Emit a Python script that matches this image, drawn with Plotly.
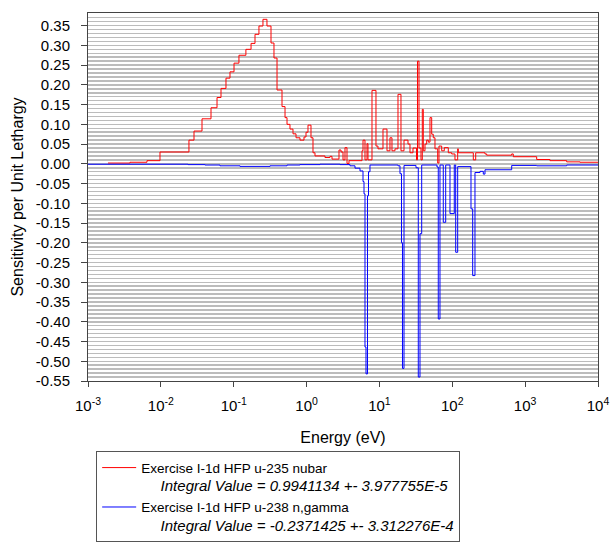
import plotly.graph_objects as go

# ---------------- data ----------------
# u-235 nubar: group lower edges (eV) and sensitivity per unit lethargy
nubar_edges = [0.00188, 0.00377, 0.00645, 0.00973, 0.0243, 0.0285, 0.0367, 0.0488, 0.0590, 0.0669,
               0.0783, 0.0889, 0.101, 0.118, 0.147, 0.173, 0.196, 0.222, 0.252, 0.286,
               0.325, 0.357, 0.393, 0.460, 0.506, 0.539, 0.592, 0.651, 0.716, 0.812,
               0.922, 0.982, 1.046, 1.150, 1.225, 1.305, 1.789, 2.096, 2.234, 2.786,
               2.969, 3.162, 3.368, 3.588, 3.821, 5.765, 5.950, 6.337, 6.751, 6.966,
               7.906, 8.968, 9.554, 11.19, 12.70, 13.96, 14.87, 16.35, 17.98, 19.76,
               21.74, 24.66, 26.27, 28.88, 32.26, 33.30, 34.91, 37.19, 38.75, 39.99,
               42.20, 44.53, 46.84, 49.43, 52.15, 54.85, 57.87, 63.04, 65.68, 71.54,
               77.68, 88.13, 98.12, 108.9, 118.6, 120.9, 194.3, 209.6, 281.1, 296.7,
               653.6, 687.4, 1440.0, 2192.0, 3716.0, 5657.0, 10000.0]
nubar_values = [0.002, 0.004, 0.008, 0.030, 0.060, 0.083, 0.114, 0.142, 0.168, 0.191,
                0.217, 0.233, 0.255, 0.275, 0.290, 0.305, 0.328, 0.349, 0.366, 0.349,
                0.306, 0.268, 0.187, 0.145, 0.117, 0.100, 0.088, 0.076, 0.066, 0.060,
                0.068, 0.080, 0.098, 0.066, 0.028, 0.020, 0.016, 0.019, 0.012, 0.035,
                0.030, 0.010, 0.041, 0.001, 0.008, 0.033, 0.060, 0.010, 0.051, 0.010,
                0.186, 0.045, 0.038, 0.088, 0.033, 0.066, 0.033, 0.038, 0.176, 0.033,
                0.060, 0.050, 0.028, 0.040, 0.010, 0.260, 0.040, 0.010, 0.138, 0.033,
                0.050, 0.060, 0.055, 0.117, 0.075, 0.066, 0.038, 0.002, 0.045, 0.033,
                0.041, 0.028, 0.025, 0.010, 0.038, 0.028, 0.010, 0.028, 0.025, 0.022,
                0.025, 0.018, 0.011, 0.008, 0.005, 0.004]

# u-238 n,gamma
ngam_edges = [0.001, 0.0236, 0.0403, 0.0648, 0.122, 0.315, 0.539, 0.812, 1.528, 2.875,
              3.945, 4.619, 5.410, 5.950, 6.140, 6.337, 6.540, 6.858, 7.077, 7.419,
              17.98, 19.15, 20.08, 20.72, 21.74, 31.76, 34.15, 36.03, 38.02, 61.66,
              64.23, 67.79, 75.24, 81.19, 92.99, 106.5, 111.4, 118.6, 180.6, 190.5,
              204.9, 240.0, 266.4, 281.1, 653.6, 1440.0, 3716.0, 10000.0]
ngam_values = [-0.001, -0.002, -0.003, -0.005, -0.0065, -0.005, -0.003, -0.002, -0.001, -0.002,
               -0.005, -0.011, -0.018, -0.045, -0.076, -0.464, -0.532, -0.081, -0.020, -0.003,
               -0.005, -0.025, -0.200, -0.518, -0.004, -0.010, -0.540, -0.177, -0.003, -0.008,
               -0.393, -0.003, -0.148, -0.003, -0.126, -0.003, -0.224, -0.007, -0.114, -0.283,
               -0.022, -0.019, -0.026, -0.015, -0.004, -0.005, -0.003]

x_tick_vals = [1e-3, 1e-2, 1e-1, 1e0, 1e1, 1e2, 1e3, 1e4]
x_tick_text = ["10<sup>-3</sup>", "10<sup>-2</sup>", "10<sup>-1</sup>", "10<sup>0</sup>",
               "10<sup>1</sup>", "10<sup>2</sup>", "10<sup>3</sup>", "10<sup>4</sup>"]
y_tick_vals = [0.35, 0.30, 0.25, 0.20, 0.15, 0.10, 0.05, 0.00, -0.05, -0.10, -0.15, -0.20,
               -0.25, -0.30, -0.35, -0.40, -0.45, -0.50, -0.55]
y_tick_text = ["0.35", "0.30", "0.25", "0.20", "0.15", "0.10", "0.05", "0.00", "-0.05", "-0.10",
               "-0.15", "-0.20", "-0.25", "-0.30", "-0.35", "-0.40", "-0.45", "-0.50", "-0.55"]

series_names = ["Exercise I-1d HFP u-235 nubar", "Exercise I-1d HFP u-238 n,gamma"]
integral_texts = ["Integral Value = 0.9941134 +- 3.977755E-5",
                  "Integral Value = -0.2371425 +- 3.312276E-4"]


def legend_label(name, integral):
    return ('<span style="font-size:13.5px">' + name + '</span><br>'
            '&nbsp;&nbsp;&nbsp;&nbsp;&nbsp;<span style="font-size:15px"><i>' + integral + '</i></span>')


FONT = "Liberation Sans, Arial, sans-serif"

fig = go.Figure()
fig.add_trace(go.Scatter(x=nubar_edges, y=nubar_values + [nubar_values[-1]], mode="lines",
                         line=dict(color="#ff0000", width=1, shape="hv"),
                         name=legend_label(series_names[0], integral_texts[0])))
fig.add_trace(go.Scatter(x=ngam_edges, y=ngam_values + [ngam_values[-1]], mode="lines",
                         line=dict(color="#0000ff", width=1, shape="hv"),
                         name=legend_label(series_names[1], integral_texts[1])))

fig.update_layout(
    width=610, height=542,
    margin=dict(l=88, r=12, t=13, b=161, autoexpand=False),
    paper_bgcolor="white", plot_bgcolor="white",
    font=dict(family=FONT, size=14, color="black"),
    legend=dict(x=0.016, y=-0.1902, xref="paper", yref="paper", xanchor="left", yanchor="top",
                bordercolor="#555555", borderwidth=1, bgcolor="white",
                valign="top", font=dict(size=14), itemwidth=34,
                tracegroupgap=0),
    showlegend=True,
    hovermode=False,
)
fig.update_xaxes(type="log", range=[-3, 4], tickvals=x_tick_vals, ticktext=x_tick_text,
                 showgrid=False, showline=True, mirror=True, linecolor="#444444", linewidth=1,
                 ticks="outside", ticklen=5, tickcolor="#444444", ticklabelstandoff=6,
                 ticklabeloverflow="allow",
                 tickfont=dict(size=15), automargin=False,
                 title=dict(text="Energy (eV)", standoff=18, font=dict(size=16)), zeroline=False)
fig.update_yaxes(range=[-0.55, 0.382], tickvals=y_tick_vals, ticktext=y_tick_text,
                 showgrid=True, gridcolor="#bcbcbc", gridwidth=1.5,
                 minor=dict(dtick=0.01, tick0=0, showgrid=True, gridcolor="#bcbcbc", gridwidth=1.5),
                 showline=True, mirror=True, linecolor="#444444", linewidth=1,
                 ticks="outside", ticklen=6, tickcolor="#444444", ticklabelstandoff=8,
                 tickfont=dict(size=15), automargin=False,
                 title=dict(text="Sensitivity per Unit Lethargy", standoff=8, font=dict(size=16)),
                 zeroline=False)

fig.write_html("out.html", config={"displayModeBar": False, "staticPlot": True},
               post_script="document.body.style.margin='0';document.body.style.overflow='hidden';")
